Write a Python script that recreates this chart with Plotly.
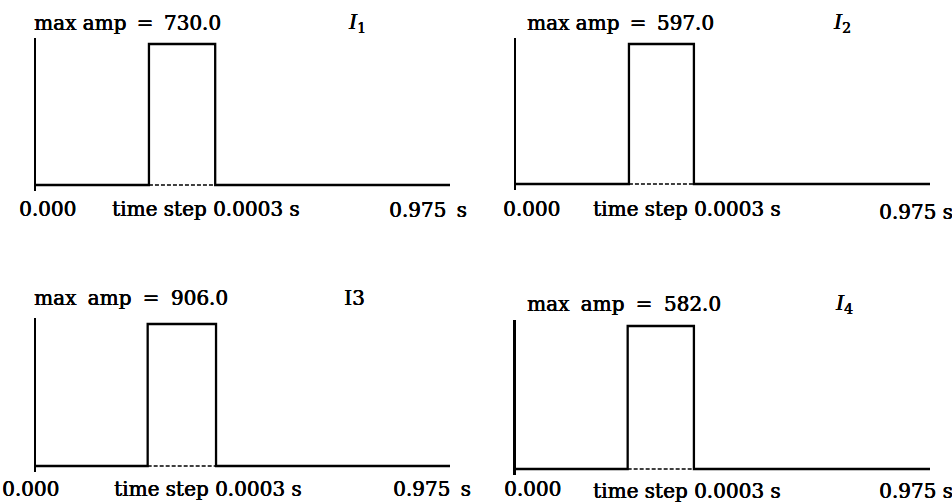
import plotly.graph_objects as go

W, H = 952, 504

# ---- data ----
panel_names = ["I1", "I2", "I3", "I4"]
max_amps = [730.0, 597.0, 906.0, 582.0]
t_start = [0.0, 0.0, 0.0, 0.0]
t_rise = [0.266, 0.266, 0.263, 0.263]
t_fall = [0.422, 0.419, 0.424, 0.419]
t_end = [0.975, 0.975, 0.975, 0.975]
time_step_label = "time step 0.0003 s"
start_label = "0.000"
end_labels = ["0.975\u2009 s", "0.975 s", "0.975\u2009 s", "0.975 s"]
title_labels = ["<i>I</i><sub>1</sub>", "<i>I</i><sub>2</sub>", "I3", "<i>I</i><sub>4</sub>"]

# ---- layout geometry (pixels) ----
geom = [
    (36, 450, 44, 185),
    (516, 930, 44, 184),
    (36, 450, 324, 466),
    (516, 930, 326, 469),
]
FONT = "DejaVu Serif"
FS = 20
SHADOW = "0.5px 0px 0px black, 0px 0.3px 0px black"
SP_TOP = "\u2009 "     # spacing used in top row titles
SP_BOT = "\u2005 "     # slightly wider spacing used in bottom row titles

fig = go.Figure()
annotations = []

def px_x(x):
    return x / W

def px_y(y):
    return 1 - y / H

text_pos = [
    ((32, 23), (346, 23), (17, 209), (110, 209), (387, 210)),
    ((525, 23), (831, 23), (501, 209), (591, 209), (877, 212)),
    ((32, 298), (342, 298), (0, 489), (112, 489), (391, 489)),
    ((525, 304), (833, 304), (502, 489), (591, 491), (877, 491)),
]

for i in range(4):
    xl, xr, yt, yb = geom[i]
    m = max_amps[i]
    pad = 0.04 * m
    scale = (yb - yt) / m
    dom_y = [px_y(yb + pad * scale), px_y(yt - pad * scale)]
    tpad = 0.01
    xscale = (xr - xl) / (t_end[i] - t_start[i])
    dom_x = [px_x(xl), px_x(xr + tpad * xscale)]
    ax = "" if i == 0 else str(i + 1)
    tr, tf = t_rise[i], t_fall[i]
    t = [t_start[i], tr, tr, tf, tf, t_end[i]]
    a = [0, 0, m, m, 0, 0]
    fig.add_trace(go.Scatter(x=t, y=a, mode="lines",
                             line=dict(color="black", width=2.3),
                             xaxis="x" + ax, yaxis="y" + ax, showlegend=False))
    fig.add_trace(go.Scatter(x=[tr, tf], y=[0, 0], mode="lines",
                             line=dict(color="black", width=1.5, dash="4px,2px"),
                             xaxis="x" + ax, yaxis="y" + ax, showlegend=False))
    fig.update_layout(**{
        "xaxis" + ax: dict(domain=dom_x, range=[t_start[i], t_end[i] + tpad],
                           showgrid=False, zeroline=False, showticklabels=False,
                           ticks="", showline=False, anchor="y" + ax),
        "yaxis" + ax: dict(domain=dom_y, range=[-pad, m + pad],
                           showgrid=False, zeroline=False, showticklabels=False,
                           ticks="", showline=True, linecolor="black",
                           linewidth=3 if i == 3 else 2.4, anchor="x" + ax),
    })
    tp = text_pos[i]
    if i < 2:
        title = f"max amp{SP_TOP}={SP_TOP}{m:.1f}"
    else:
        title = f"max{SP_BOT}amp{SP_BOT}={SP_BOT}{m:.1f}"
    texts = [title, title_labels[i], start_label, time_step_label, end_labels[i]]
    for (x, y), s in zip(tp, texts):
        annotations.append(dict(x=px_x(x), y=px_y(y), xref="paper", yref="paper",
                                xanchor="left", yanchor="middle", showarrow=False,
                                text=s, font=dict(family=FONT, size=FS, color="black",
                                                  shadow=SHADOW)))

fig.update_layout(width=W, height=H, margin=dict(l=0, r=0, t=0, b=0),
                  paper_bgcolor="white", plot_bgcolor="white",
                  annotations=annotations)
fig.write_html("out.html")
